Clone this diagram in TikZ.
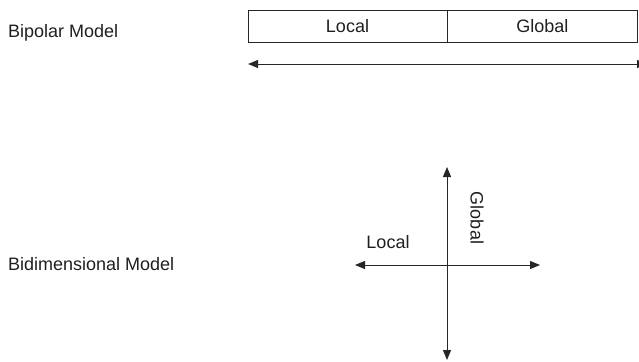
\documentclass[tikz,border=0pt]{standalone}
\usepackage{fontspec}
\setmainfont{Liberation Sans}
\usetikzlibrary{arrows.meta}

\begin{document}
\begin{tikzpicture}[x=1pt, y=-1pt,
    lbl/.style={font=\fontsize{18}{21}\selectfont, inner sep=0pt, text=black!88},
    cell/.style={draw=black!85, line width=0.9pt, minimum height=32pt, inner sep=0pt, outer sep=0pt, text=black!88, font=\fontsize{18}{21}\selectfont},
    axis/.style={draw=black!85, line width=1pt, {Triangle[length=10pt,width=8pt]}-{Triangle[length=10pt,width=8pt]}}]
  \useasboundingbox (0,0) rectangle (639,361);

  % Bipolar model: one scale with two ends
  \node[lbl, anchor=west] (bipolar) at (8,33) {Bipolar Model};
  \node[cell, minimum width=199pt, anchor=north west] (local) at (248,10) {Local};
  \node[cell, minimum width=190.6pt, anchor=west] (global) at (local.east) {Global};
  \coordinate (bl) at (248,64);
  \coordinate (br) at (647,64);
  \draw[axis] (bl) -- (br);

  % Bidimensional model: two crossing axes
  \node[lbl, anchor=west] (bidim) at (8,264) {Bidimensional Model};
  \coordinate (top) at (447,167);
  \coordinate (bot) at (447,360);
  \coordinate (lft) at (355,265);
  \coordinate (rgt) at (540,265);
  \draw[axis] (lft) -- (rgt);
  \draw[axis] (top) -- (bot);
  \node[lbl] (xlocal) at (388,242) {Local};
  \node[lbl, rotate=-90] (yglobal) at (477,218) {Global};
\end{tikzpicture}
\end{document}
